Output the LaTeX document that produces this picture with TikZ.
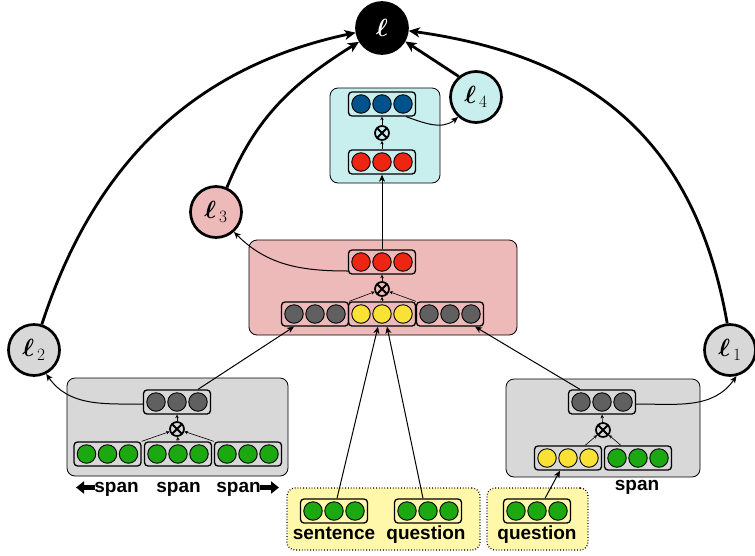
\documentclass[tikz,border=0pt]{standalone}
\usepackage{amsmath,bm}
\usepackage{fontspec}
\newfontfamily\labfont{Liberation Sans}
\usetikzlibrary{arrows.meta,calc}
\definecolor{cyanbg}{RGB}{200,238,237}
\definecolor{pinkbg}{RGB}{238,185,185}
\definecolor{graybg}{RGB}{216,216,216}
\definecolor{yelbg}{RGB}{255,247,170}
\definecolor{cblue}{RGB}{0,82,140}
\definecolor{cred}{RGB}{236,38,18}
\definecolor{cyel}{RGB}{250,226,52}
\definecolor{cgreen}{RGB}{28,168,16}
\definecolor{cgray}{RGB}{96,96,96}
\tikzset{
  bgbox/.style={draw,rounded corners=8pt,line width=0.8pt,inner sep=0pt},
  vbox/.style={draw,rounded corners=3.5pt,line width=1.3pt,minimum width=67pt,minimum height=24pt,inner sep=0pt},
  dot/.style={circle,draw,line width=0.9pt,minimum size=18.5pt,inner sep=0pt},
  otimes/.style={circle,draw,line width=1.7pt,minimum size=14pt,inner sep=0pt,
    path picture={\draw[line width=1.8pt] (path picture bounding box.south west)--(path picture bounding box.north east)
      (path picture bounding box.north west)--(path picture bounding box.south east);}},
  loss/.style={circle,draw,line width=2.7pt,minimum size=51pt,inner sep=0pt,font=\fontsize{27}{30}\selectfont},
  thickarr/.style={line width=2.8pt,-{Stealth[length=11pt,width=10pt,inset=3pt]}},
  midarr/.style={line width=1.0pt,-{Stealth[length=7pt,width=6pt,inset=2pt]}},
  tinyarr/.style={line width=0.6pt,-{Stealth[length=3.5pt,width=3.5pt]}},
  lab/.style={font=\labfont\bfseries\fontsize{19}{21}\selectfont,anchor=base,inner sep=0pt},
  bigarr/.style={line width=4.5pt,-{Triangle[length=8pt,width=12pt]}}
}
\newcommand\vecrow[3]{%
  \node[vbox] (#1) at (#2) {};
  \foreach \d/\n in {-21/a,0/b,21/c} \node[dot,fill=#3] (#1\n) at ($(#1.center)+(\d,0)$) {};
}
\begin{document}
\begin{tikzpicture}[x=1pt,y=1pt]
\useasboundingbox (0,0) rectangle (755,-555);
% background boxes
\node[bgbox,fill=cyanbg,minimum width=110pt,minimum height=95pt] (cbox) at (385,-135.5) {};
\node[bgbox,fill=pinkbg,minimum width=268pt,minimum height=95pt] (pbox) at (383,-287.5) {};
\node[bgbox,fill=graybg,minimum width=221pt,minimum height=98pt] (lbox) at (177.5,-427) {};
\node[bgbox,fill=graybg,minimum width=194pt,minimum height=98pt] (rbox) at (603,-428) {};
\node[bgbox,fill=yelbg,dotted,line width=1.3pt,minimum width=193pt,minimum height=62pt] (ybox1) at (383.5,-519) {};
\node[bgbox,fill=yelbg,dotted,line width=1.3pt,minimum width=101pt,minimum height=62pt] (ybox2) at (537.5,-519) {};
% cyan box
\vecrow{cb}{382,-104}{cblue}
\node[otimes] (cx) at (382,-133) {};
\vecrow{cr}{382,-162}{cred}
% pink box
\vecrow{pr}{382,-262}{cred}
\node[otimes] (px) at (382,-289) {};
\vecrow{pg1}{315,-314}{cgray}
\vecrow{py}{382,-314}{cyel}
\vecrow{pg3}{450,-314}{cgray}
% left gray box
\vecrow{lg}{177,-402}{cgray}
\node[otimes] (lx) at (177,-429) {};
\vecrow{lgr1}{107.5,-454}{cgreen}
\vecrow{lgr2}{178,-454}{cgreen}
\vecrow{lgr3}{248,-454}{cgreen}
% right gray box
\vecrow{rg}{602,-402}{cgray}
\node[otimes] (rx) at (603,-430) {};
\vecrow{ry}{568,-458}{cyel}
\vecrow{rgr}{638,-458}{cgreen}
% bottom inputs
\vecrow{sv}{334,-511}{cgreen}
\vecrow{qv}{428,-511}{cgreen}
\vecrow{qv2}{537,-511}{cgreen}
% labels
\node[lab] (t1) at (116.5,-492) {span};
\node[lab] (t2) at (178.5,-492) {span};
\node[lab] (t3) at (238.5,-492) {span};
\coordinate (a1s) at (95,-487.5);
\coordinate (a1e) at (76,-487.5);
\coordinate (a2s) at (260,-487.5);
\coordinate (a2e) at (279,-487.5);
\draw[bigarr] (a1s) -- (a1e);
\draw[bigarr] (a2s) -- (a2e);
\node[lab] (t4) at (637,-490) {span};
\node[lab] (t5) at (334,-539) {sentence};
\node[lab] (t6) at (426,-539) {question};
\node[lab] (t7) at (537,-539) {question};
% tiny arrows into/out of otimes
\draw[tinyarr] (cr.north) -- (cx);
\draw[tinyarr] (cx) -- (cb.south);
\draw[tinyarr] (pg1.north east) -- (px);
\draw[tinyarr] (py.north) -- (px);
\draw[tinyarr] (pg3.north west) -- (px);
\draw[tinyarr] (px) -- (pr.south);
\draw[tinyarr] (lgr1.north east) -- (lx);
\draw[tinyarr] (lgr2.north) -- (lx);
\draw[tinyarr] (lgr3.north west) -- (lx);
\draw[tinyarr] (lx) -- (lg.south);
\draw[tinyarr] ([xshift=-17pt]ry.north east) -- (rx);
\draw[tinyarr] ([xshift=17pt]rgr.north west) -- (rx);
\draw[tinyarr] (rx) -- (rg.south);
% connectors between modules
\draw[midarr] (pr.north) -- (cr.south);
\draw[midarr] ([xshift=21pt]lg.north) -- ([xshift=-21pt]pg1.south);
\draw[midarr] ([xshift=-22pt]rg.north) -- ([xshift=25pt]pg3.south);
\draw[midarr] ([xshift=3pt]sv.north) -- ([xshift=-4pt]py.south);
\draw[midarr] ([xshift=-5pt]qv.north) -- ([xshift=5pt]py.south);
\draw[midarr] ([xshift=8pt]qv2.north) -- ([xshift=-8pt]ry.south);
% loss nodes
\node[loss,fill=black,text=white] (l) at (382,-28) {$\bm{\ell}$};
\node[loss,fill=cyanbg] (l4) at (476,-97) {$\bm{\ell}_{\,4}$};
\node[loss,fill=pinkbg] (l3) at (216,-212) {$\bm{\ell}_{\,3}$};
\node[loss,fill=graybg] (l2) at (34,-350) {$\bm{\ell}_{\,2}$};
\node[loss,fill=graybg] (l1) at (730,-350) {$\bm{\ell}_{\,1}$};
% thin curves to losses
\draw[midarr] ([xshift=-10pt]cb.south east) to[out=-20,in=220] (l4.228);
\draw[midarr] ([yshift=-9pt]pr.west) to[out=180,in=-45] (l3.-48);
\draw[midarr] ([yshift=-2pt]lg.west) to[out=180,in=-55] (l2.-63);
\draw[midarr] ([yshift=-2pt]rg.east) to[out=0,in=-125] (l1.-76);
% thick arrows to final loss
\draw[thickarr] (l2.73) to[out=72,in=192] (l.190);
\draw[thickarr] (l3.66) to[out=68,in=212] (l.211);
\draw[thickarr] (l4.130) -- (l.-30);
\draw[thickarr] (l1.96) to[out=100,in=-8,looseness=1.1] (l.-6);
\end{tikzpicture}
\end{document}
